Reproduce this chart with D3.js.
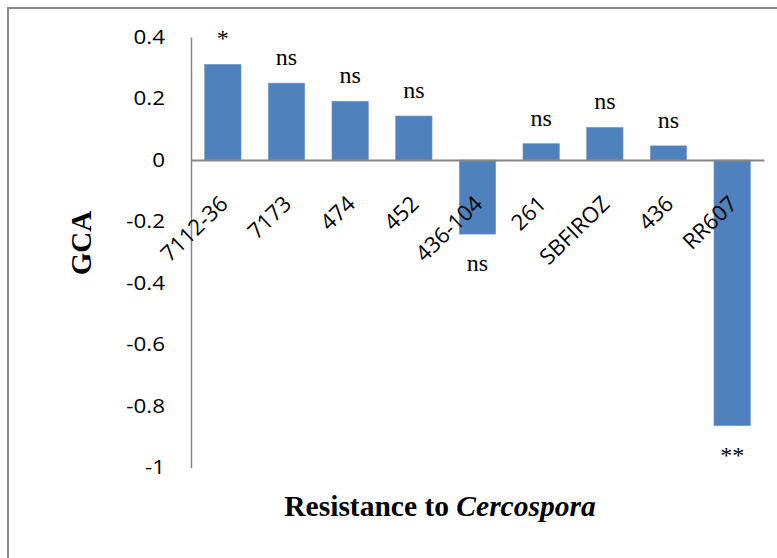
<!DOCTYPE html>
<html>
<head>
<meta charset="utf-8">
<script src="https://cdn.jsdelivr.net/npm/d3@7"></script>
<style>
  html, body { margin: 0; padding: 0; background: #fff; }
  svg { display: block; }
</style>
</head>
<body>
<div id="chart"></div>
<script>
const categories = ["7112-36", "7173", "474", "452", "436-104", "261", "SBFIROZ", "436", "RR607"];
const gca = [0.311, 0.250, 0.191, 0.143, -0.241, 0.053, 0.106, 0.046, -0.864];
const significance = ["*", "ns", "ns", "ns", "ns", "ns", "ns", "ns", "**"];
const yTicks = [0.4, 0.2, 0, -0.2, -0.4, -0.6, -0.8, -1];

const W = 777, H = 558;
const svg = d3.select("#chart").append("svg").attr("width", W).attr("height", H);

// outer chart border (only left and top edges visible in the frame)
svg.append("rect")
  .attr("x", 8).attr("y", 8).attr("width", W + 20).attr("height", H + 20)
  .attr("fill", "#fff").attr("stroke", "#898989").attr("stroke-width", 2);

const plotLeft = 191, plotRight = 764, plotTop = 37, plotBottom = 467.5;

const x = d3.scaleBand().domain(categories).range([plotLeft, plotRight])
  .paddingInner(0.4286).paddingOuter(0.2143);
const y = d3.scaleLinear().domain([-1, 0.4]).range([plotBottom, plotTop]);

const data = categories.map((c, i) => ({ c, v: gca[i], s: significance[i] }));

// bars
svg.append("g").selectAll("rect").data(data).enter().append("rect")
  .attr("x", d => x(d.c))
  .attr("width", x.bandwidth())
  .attr("y", d => y(Math.max(0, d.v)))
  .attr("height", d => Math.abs(y(d.v) - y(0)))
  .attr("fill", "#4F81BD")
  .attr("stroke", "#6f98cb").attr("stroke-width", 0.6);

// y axis
const yAxis = svg.append("g").attr("transform", `translate(${plotLeft},0)`)
  .call(d3.axisLeft(y).tickValues(yTicks).tickSize(0).tickPadding(0)
    .tickFormat(d => String(+d.toFixed(1))));
yAxis.select(".domain").attr("stroke", "#868686").attr("stroke-width", 1.5);
yAxis.selectAll("text").attr("font-family", "'Open Sans', sans-serif")
  .attr("font-size", 20).attr("fill", "#000")
  .attr("x", 0)
  .attr("transform", "translate(-26,0) scale(1.12,1)");

// x axis at zero
const xAxis = svg.append("g").attr("transform", `translate(0,${y(0)})`)
  .call(d3.axisBottom(x).tickSize(0).tickSizeOuter(0));
xAxis.select(".domain").attr("stroke", "#868686").attr("stroke-width", 2);
xAxis.selectAll("text")
  .attr("font-family", "'Open Sans', sans-serif").attr("font-size", 22).attr("fill", "#000")
  .attr("x", 0).attr("y", 0).attr("dy", "0.35em")
  .attr("text-anchor", "end")
  .attr("transform", "translate(1,40) rotate(-44)");

// significance labels
svg.append("g").selectAll("text").data(data).enter().append("text")
  .attr("x", d => x(d.c) + x.bandwidth() / 2)
  .attr("y", d => d.v >= 0 ? y(d.v) - 18 : y(d.v) + 37)
  .attr("text-anchor", "middle")
  .attr("font-family", "'Liberation Serif', 'Times New Roman', serif")
  .attr("font-size", 24).attr("fill", "#000")
  .text(d => d.s);

// axis titles
svg.append("text")
  .attr("transform", `translate(91,243) rotate(-90)`)
  .attr("text-anchor", "middle")
  .attr("font-family", "'Liberation Serif', 'Times New Roman', serif")
  .attr("font-size", 29).attr("font-weight", "bold").attr("fill", "#000")
  .text("GCA");

const title = svg.append("text")
  .attr("x", 440).attr("y", 516)
  .attr("text-anchor", "middle")
  .attr("font-family", "'Liberation Serif', 'Times New Roman', serif")
  .attr("font-size", 29.5).attr("font-weight", "bold").attr("fill", "#000");
title.append("tspan").text("Resistance to ");
title.append("tspan").attr("font-style", "italic").text("Cercospora");
</script>
</body>
</html>
